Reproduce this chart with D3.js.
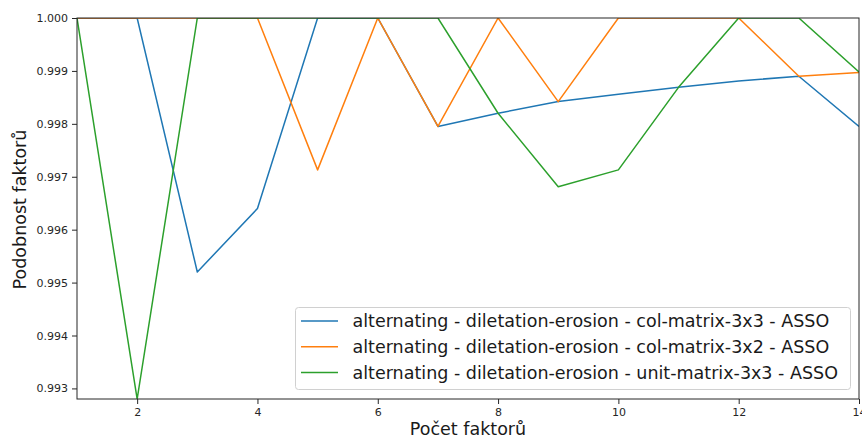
<!DOCTYPE html>
<html><head><meta charset="utf-8">
<script src="https://cdn.jsdelivr.net/npm/d3@7"></script>
<style>body{margin:0;background:#fff;} svg{display:block;font-family:"DejaVu Sans",sans-serif;}</style>
</head><body>
<svg id="c" width="862" height="437"></svg>
<script>
const xValues = [1,2,3,4,5,6,7,8,9,10,11,12,13,14];
const seriesNames = [
  "alternating - diletation-erosion - col-matrix-3x3 - ASSO",
  "alternating - diletation-erosion - col-matrix-3x2 - ASSO",
  "alternating - diletation-erosion - unit-matrix-3x3 - ASSO"
];
const blueValues   = [1.0, 1.0, 0.99520, 0.99640, 1.0, 1.0, 0.99795, 0.99820, 0.99842, 0.99856, 0.99869, 0.99881, 0.99890, 0.99795];
const orangeValues = [1.0, 1.0, 1.0, 1.0, 0.99713, 1.0, 0.99795, 1.0, 0.99842, 1.0, 1.0, 1.0, 0.99890, 0.99897];
const greenValues  = [1.0, 0.99280, 1.0, 1.0, 1.0, 1.0, 1.0, 0.99820, 0.99681, 0.99713, 0.99869, 1.0, 1.0, 0.99898];
const colors = ["#1f77b4", "#ff7f0e", "#2ca02c"];
const xTicks = [2,4,6,8,10,12,14];
const yTicks = [0.993,0.994,0.995,0.996,0.997,0.998,0.999,1.000];
const xLabel = "Počet faktorů";
const yLabel = "Podobnost faktorů";

const svg = d3.select("#c");
const L = 77, R = 859, T = 18, B = 399;
const allVals = blueValues.concat(orangeValues, greenValues);
const x = d3.scaleLinear().domain([1,14]).range([L,R]);
const y = d3.scaleLinear().domain([d3.min(allVals), d3.max(allVals)]).range([B,T]);

svg.append("defs").append("clipPath").attr("id","clip")
  .append("rect").attr("x",L).attr("y",T).attr("width",R-L).attr("height",B-T);

const line = d3.line().x((d,i)=>x(xValues[i])).y(d=>y(d));
[blueValues, orangeValues, greenValues].forEach((vals,k)=>{
  svg.append("path").attr("d", line(vals)).attr("fill","none")
    .attr("stroke", colors[k]).attr("stroke-width",1.5).attr("clip-path","url(#clip)")
    .attr("stroke-linejoin","round");
});

const xAxis = svg.append("g").attr("transform",`translate(0,${B})`)
  .call(d3.axisBottom(x).tickValues(xTicks).tickFormat(d3.format("d")).tickSize(5).tickPadding(4));
const yAxis = svg.append("g").attr("transform",`translate(${L},0)`)
  .call(d3.axisLeft(y).tickValues(yTicks).tickFormat(d3.format(".3f")).tickSize(5).tickPadding(4));
[xAxis,yAxis].forEach(g=>{
  g.select(".domain").remove();
  g.selectAll("text").attr("font-size",11).attr("fill","#262626").attr("font-family","DejaVu Sans");
  g.selectAll("line").attr("stroke","#262626");
});

svg.append("rect").attr("x",L).attr("y",T).attr("width",R-L).attr("height",B-T)
  .attr("fill","none").attr("stroke","#262626").attr("stroke-width",1);

// legend
const lg = svg.append("g");
lg.append("rect").attr("x",295.5).attr("y",307.5).attr("width",555).attr("height",82)
  .attr("rx",3).attr("fill","#fff").attr("fill-opacity",0.8).attr("stroke","#d0d0d0");
seriesNames.forEach((n,i)=>{
  const yy = 321 + i*25.8;
  lg.append("line").attr("x1",301).attr("x2",338).attr("y1",yy).attr("y2",yy)
    .attr("stroke",colors[i]).attr("stroke-width",1.5);
  lg.append("text").attr("x",352.5).attr("y",yy).attr("dy","0.35em")
    .attr("font-size",17.5).attr("fill","#1a1a1a").text(n);
});

svg.append("text").attr("x",(L+R)/2).attr("y",435).attr("text-anchor","middle")
  .attr("font-size",17.5).attr("fill","#1a1a1a").text(xLabel);
svg.append("text").attr("transform",`translate(25.5,${(T+B)/2 + 1}) rotate(-90)`).attr("text-anchor","middle")
  .attr("font-size",17.5).attr("fill","#1a1a1a").text(yLabel);
</script>
</body></html>
